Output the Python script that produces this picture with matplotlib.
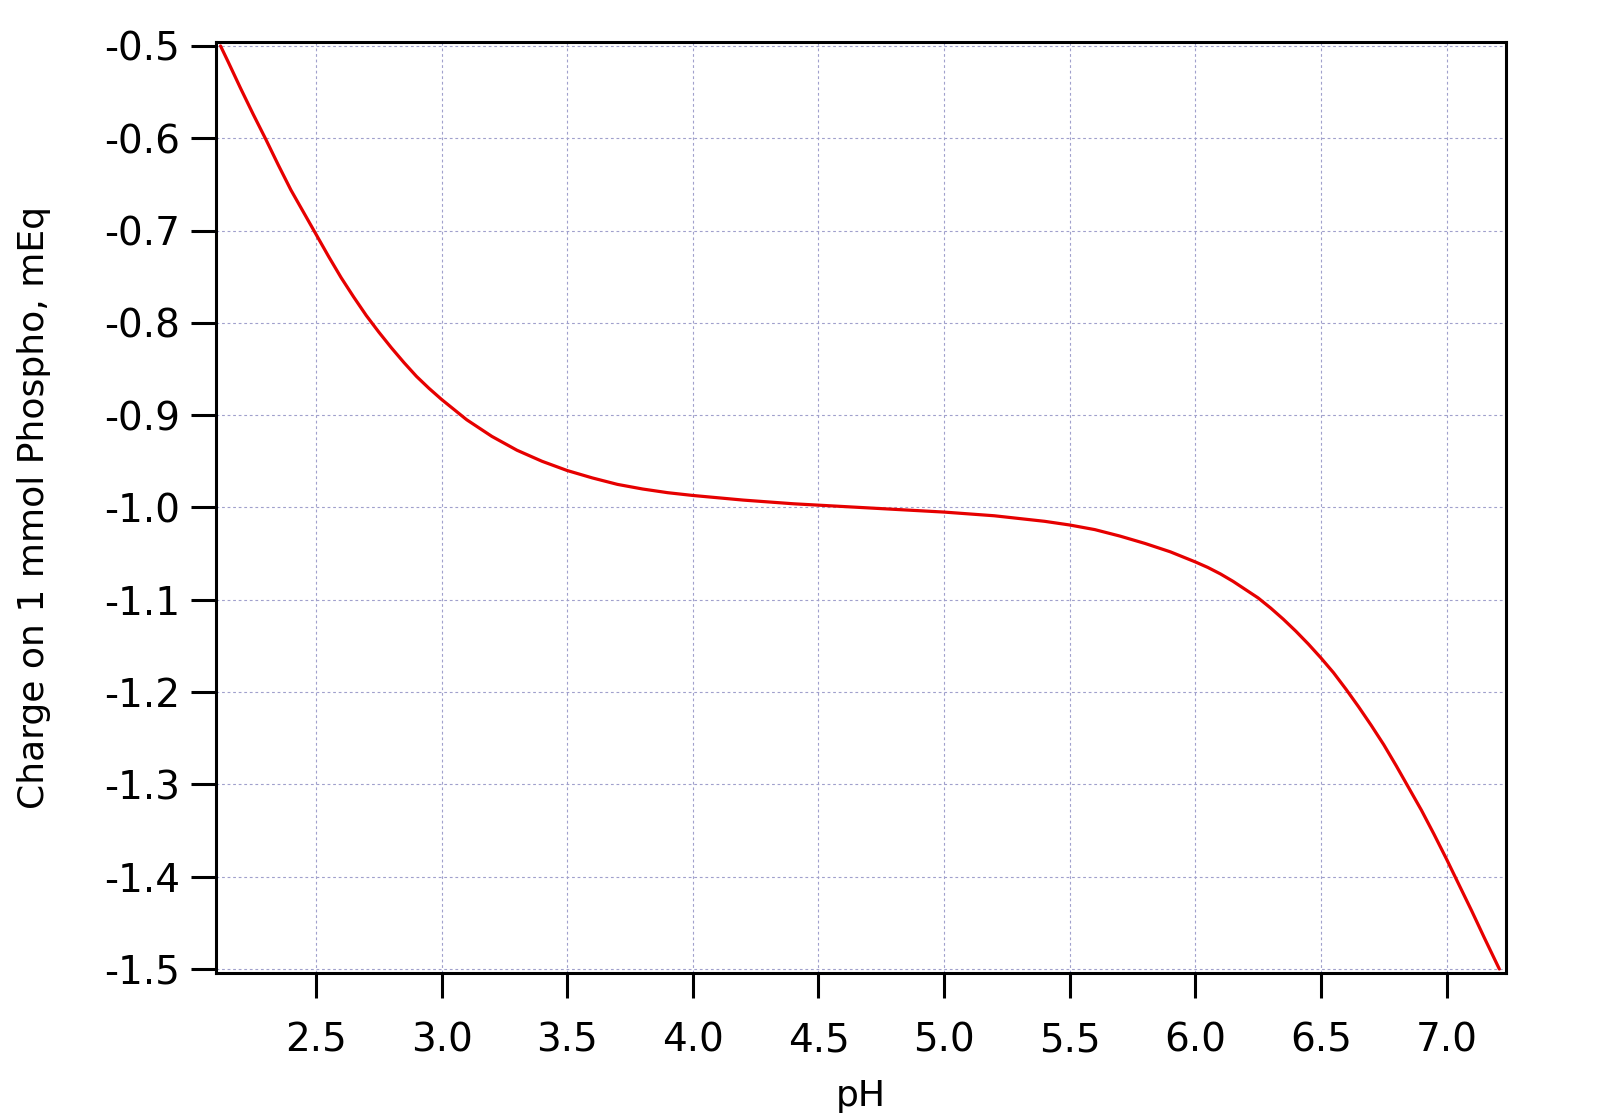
import matplotlib
matplotlib.use("Agg")
import matplotlib.pyplot as plt

# Charge on 1 mmol phosphate vs pH
ph = [2.12, 2.15, 2.2, 2.25, 2.3, 2.35, 2.4, 2.45, 2.5, 2.55,
      2.6, 2.65, 2.7, 2.75, 2.8, 2.85, 2.9, 2.95, 3.0, 3.05,
      3.1, 3.15, 3.2, 3.3, 3.4, 3.5, 3.6, 3.7, 3.8, 3.9,
      4.0, 4.2, 4.4, 4.6, 4.8, 5.0, 5.2, 5.4, 5.5, 5.6,
      5.7, 5.8, 5.9, 6.0, 6.05, 6.1, 6.15, 6.2, 6.25, 6.3,
      6.35, 6.4, 6.45, 6.5, 6.55, 6.6, 6.65, 6.7, 6.75, 6.8,
      6.85, 6.9, 6.95, 7.0, 7.05, 7.1, 7.15, 7.21]
charge = [-0.500, -0.517, -0.546, -0.574, -0.601, -0.629, -0.656, -0.680, -0.704, -0.728,
          -0.751, -0.772, -0.792, -0.810, -0.827, -0.843, -0.858, -0.871, -0.883, -0.894,
          -0.905, -0.914, -0.923, -0.938, -0.950, -0.960, -0.968, -0.975, -0.980, -0.984,
          -0.987, -0.992, -0.996, -0.999, -1.002, -1.005, -1.009, -1.015, -1.019, -1.024,
          -1.031, -1.039, -1.048, -1.059, -1.065, -1.072, -1.080, -1.089, -1.098, -1.109,
          -1.121, -1.134, -1.148, -1.163, -1.179, -1.197, -1.216, -1.236, -1.257, -1.280,
          -1.304, -1.328, -1.354, -1.381, -1.409, -1.437, -1.466, -1.500]

x_ticks = [2.5, 3.0, 3.5, 4.0, 4.5, 5.0, 5.5, 6.0, 6.5, 7.0]
y_ticks = [-0.5, -0.6, -0.7, -0.8, -0.9, -1.0, -1.1, -1.2, -1.3, -1.4, -1.5]

plt.rcParams["font.family"] = ["DejaVu Sans"]

figure = plt.figure(figsize=(16, 11.16), dpi=100)
axis = figure.add_axes([0.135, 0.128, 0.806, 0.8344])

axis.plot(ph, charge, color="#e60000", linewidth=2.3,
          solid_joinstyle="round", solid_capstyle="round")

axis.set_xlim(2.102, 7.235)
axis.set_ylim(-1.5045, -0.4957)

axis.set_xticks(x_ticks)
axis.set_xticklabels([f"{t:.1f}" for t in x_ticks])
axis.set_yticks(y_ticks)
axis.set_yticklabels([f"{t:.1f}" for t in y_ticks])

# Igor-style frame: thick box, outward ticks on left and bottom only
for spine in axis.spines.values():
    spine.set_linewidth(2.2)
axis.tick_params(axis="both", direction="out", length=18, width=2.2,
                 labelsize=28, top=False, right=False)
axis.tick_params(axis="x", pad=17)
axis.tick_params(axis="y", pad=8)

axis.grid(True, color="#a0a0cc", linestyle=(0, (2.5, 2.5)), linewidth=0.8)
axis.set_axisbelow(True)

axis.set_xlabel("pH", fontsize=26, labelpad=14)
axis.set_ylabel("Charge on 1 mmol Phospho, mEq", fontsize=26, labelpad=38)

figure.savefig("out.png", dpi=100, facecolor="white")
